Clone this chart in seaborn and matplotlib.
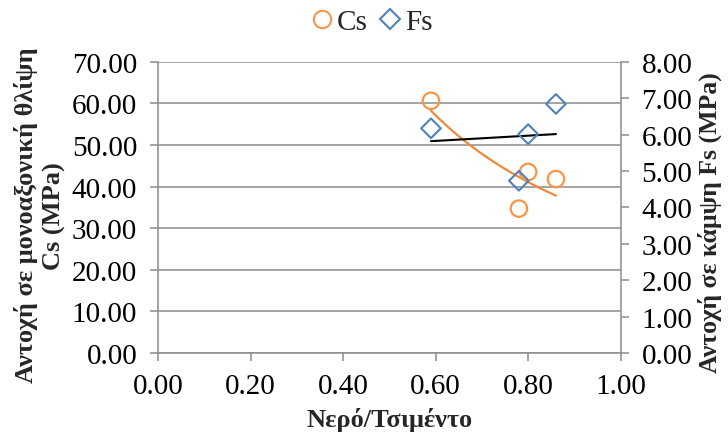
import numpy as np
import pandas as pd
import matplotlib
matplotlib.use("Agg")
import matplotlib.pyplot as plt
import seaborn as sns
from matplotlib.lines import Line2D

# Data
wc_cs = [0.59, 0.78, 0.80, 0.86]
cs_values = [60.6, 34.7, 43.5, 41.8]
wc_fs = [0.59, 0.78, 0.80, 0.86]
fs_values = [6.17, 4.73, 6.01, 6.84]
x_ticks = [0.0, 0.2, 0.4, 0.6, 0.8, 1.0]
cs_ticks = [0, 10, 20, 30, 40, 50, 60, 70]
fs_ticks = [0, 1, 2, 3, 4, 5, 6, 7, 8]

sns.set_theme(style="white")
plt.rcParams['font.family'] = ['Liberation Serif', 'DejaVu Serif']

ORANGE = '#F79646'
ORANGE_LINE = '#EE8A3C'
BLUE = '#4F81BD'
GRID = '#8C8C8C'

fig = plt.figure(figsize=(7.28, 4.35), dpi=100)
ax = fig.add_axes([0.217, 0.186, 0.6356, 0.670])
ax2 = ax.twinx()

# trendlines
xs = np.linspace(min(wc_cs), max(wc_cs), 60)
b, a = np.polyfit(np.log(wc_cs), np.log(cs_values), 1)
cs_fit = np.exp(a) * xs ** b
m, c = np.polyfit(wc_fs, fs_values, 1)
fs_fit = m * xs + c

df_cs = pd.DataFrame({'x': wc_cs, 'y': cs_values})
df_fs = pd.DataFrame({'x': wc_fs, 'y': fs_values})

sns.lineplot(x=xs, y=cs_fit, ax=ax, color=ORANGE_LINE, lw=1.6, zorder=3)
sns.scatterplot(data=df_cs, x='x', y='y', ax=ax, marker='o', s=140,
                facecolors='none', edgecolor=ORANGE, linewidth=1.6, zorder=4)

sns.lineplot(x=xs, y=fs_fit, ax=ax2, color='black', lw=1.5, zorder=3)
sns.scatterplot(data=df_fs, x='x', y='y', ax=ax2, marker='D', s=100,
                facecolors='none', edgecolor=BLUE, linewidth=1.5, zorder=4)

ax.set_xlim(0, 1)
ax.set_ylim(0, 70)
ax2.set_ylim(0, 8)
ax.set_xticks(x_ticks)
ax.set_xticklabels([f"{v:.2f}" for v in x_ticks])
ax.set_yticks(cs_ticks)
ax.set_yticklabels([f"{v:.2f}" for v in cs_ticks])
ax2.set_yticks(fs_ticks)
ax2.set_yticklabels([f"{v:.2f}" for v in fs_ticks])

ax.grid(axis='y', color=GRID, lw=1.1)
ax.grid(axis='x', visible=False)
ax2.grid(False)
ax.set_axisbelow(True)

for a_ in (ax, ax2):
    for s in a_.spines.values():
        s.set_visible(False)
ax.spines['left'].set_visible(True)
ax.spines['bottom'].set_visible(True)
ax2.spines['right'].set_visible(True)
for s in (ax.spines['left'], ax.spines['bottom'], ax2.spines['right']):
    s.set_color(GRID)
    s.set_linewidth(1.1)

ax.tick_params(axis='both', which='major', direction='out', length=6, width=1.1,
               color=GRID, labelsize=21, labelcolor='black', pad=9,
               left=True, bottom=True)
ax.tick_params(axis='x', pad=8)
ax2.tick_params(axis='y', direction='out', length=6, width=1.1, color=GRID,
                labelsize=21, labelcolor='black', right=True, pad=9)

ax.set_xlabel('Νερό/Τσιμέντο', fontsize=19, fontweight='bold', labelpad=6)
ax.set_ylabel('Αντοχή σε μονοαξονική θλίψη\nCs (MPa)', fontsize=19,
              fontweight='bold', labelpad=4, linespacing=1.25)
ax2.set_ylabel('Αντοχή σε κάμψη Fs (MPa)', fontsize=18.5, fontweight='bold',
               labelpad=4)
ax.yaxis.label.set_y(0.475)
ax2.yaxis.label.set_y(0.45)

handles = [Line2D([], [], marker='o', ls='none', markerfacecolor='none',
                  markeredgecolor=ORANGE, markersize=12.5, markeredgewidth=1.5),
           Line2D([], [], marker='D', ls='none', markerfacecolor='none',
                  markeredgecolor=BLUE, markersize=10, markeredgewidth=1.5)]
fig.legend(handles, ['Cs', 'Fs'], loc='upper center', bbox_to_anchor=(0.508, 1.005),
           ncol=2, frameon=False, fontsize=21, handletextpad=0.0,
           columnspacing=0.3, handlelength=1.0, borderaxespad=0.0)

fig.savefig('out.png', dpi=100)
